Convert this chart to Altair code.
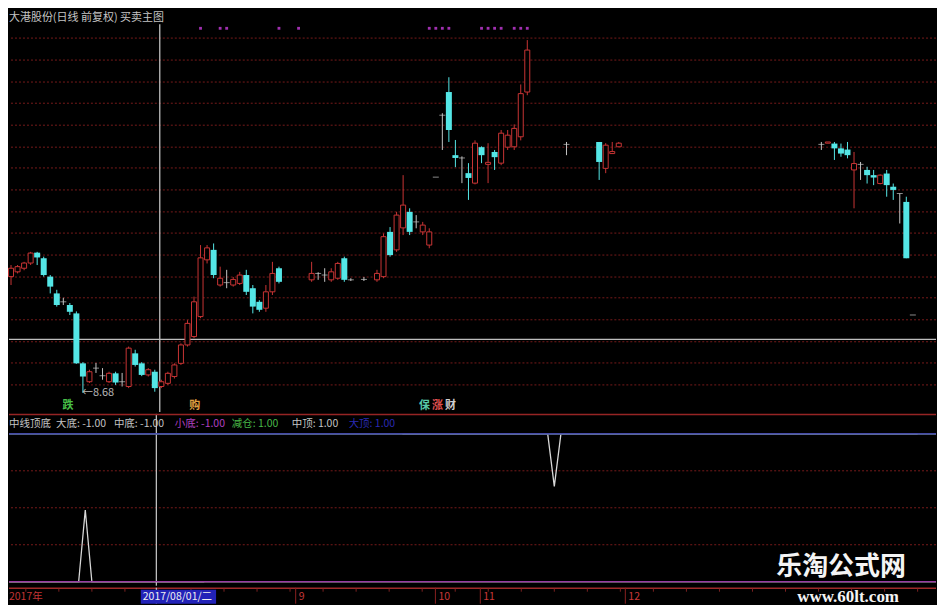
import altair as alt
import pandas as pd
import numpy as np

# ---------------- data ----------------
# day index of each visible candle and its prices (yuan)
IDX = [0, 1, 2, 3, 4, 5, 6, 7, 8, 9, 10, 11, 12, 13, 14, 15, 16, 17, 18, 19, 20, 21, 22,
       23, 24, 25, 26, 27, 28, 29, 30, 31, 32, 33, 34, 35, 36, 37, 38, 39, 40, 41,
       46, 47, 48, 49, 50, 51, 52, 54, 56, 57, 58, 59, 60, 61, 62, 63, 64,
       65, 66, 67, 68, 69, 70, 71, 72, 73, 74, 75, 76, 77, 78, 79,
       85, 90, 91, 92, 93,
       124, 125, 126, 127, 128, 129, 130, 131, 132, 133, 134, 135, 136, 137, 138]
OPEN = [11.59, 11.71, 11.80, 11.93, 12.19, 12.05, 11.59, 11.17, 10.96, 10.88, 10.67, 9.42, 8.96, 9.30, 9.11, 8.96, 9.17, 8.96, 8.84, 9.67, 9.42, 9.13, 9.21,
        8.84, 8.92, 9.09, 9.42, 9.88, 10.09, 10.59, 12.01, 12.26, 11.38, 11.44, 11.38, 11.42, 11.63, 11.30, 10.96, 10.80, 11.21, 11.80,
        11.51, 11.67, 11.63, 11.51, 11.55, 12.05, 11.51, 11.52, 11.51, 11.59, 12.71, 12.26, 12.81, 13.21, 12.96, 12.71, 12.38,
        14.08, 15.63, 16.21, 14.63, 14.56, 14.18, 13.93, 14.83, 14.40, 14.71, 14.43, 14.83, 14.84, 15.09, 16.21,
        14.90, 14.96, 14.30, 14.67, 14.84,
        14.90, 14.93, 14.92, 14.80, 14.77, 14.26, 14.40, 14.26, 14.13, 13.92, 14.17, 13.84, 13.67, 13.46, 10.63]
HIGH = [11.88, 11.88, 11.96, 12.21, 12.21, 12.09, 11.63, 11.26, 11.06, 10.93, 10.72, 9.45, 9.26, 9.43, 9.30, 9.21, 9.21, 9.18, 9.84, 9.76, 9.45, 9.30, 9.26,
        9.01, 9.21, 9.42, 9.92, 10.50, 11.09, 12.38, 12.38, 12.42, 11.84, 11.76, 11.58, 11.71, 11.76, 11.38, 11.00, 11.38, 11.96, 11.84,
        11.96, 11.70, 11.80, 11.80, 11.96, 12.09, 11.55, 11.58, 11.76, 12.67, 12.83, 13.21, 14.13, 13.30, 13.13, 12.96, 12.80,
        14.08, 15.68, 16.58, 15.01, 14.60, 14.43, 15.00, 14.85, 14.93, 14.76, 15.26, 15.26, 15.40, 16.40, 17.51,
        14.96, 14.96, 14.93, 14.96, 14.96,
        14.96, 14.96, 14.96, 14.92, 14.96, 14.71, 14.46, 14.34, 14.26, 14.15, 14.26, 13.92, 13.67, 13.59, 10.63]
LOW = [11.38, 11.67, 11.75, 11.88, 11.88, 11.59, 11.17, 10.84, 10.88, 10.63, 9.41, 8.68, 8.93, 9.18, 9.01, 8.93, 8.88, 8.84, 8.80, 9.34, 9.10, 9.09, 8.71,
       8.80, 8.88, 9.04, 9.38, 9.84, 10.05, 10.55, 11.92, 11.55, 11.34, 11.30, 11.34, 11.38, 11.13, 10.67, 10.71, 10.71, 11.13, 11.42,
       11.46, 11.51, 11.46, 11.46, 11.51, 11.46, 11.48, 11.48, 11.46, 11.55, 12.09, 12.21, 12.63, 12.63, 12.80, 12.63, 12.30,
       14.08, 14.76, 14.96, 14.33, 13.93, 13.51, 13.90, 14.43, 13.93, 14.26, 14.38, 14.76, 14.76, 15.00, 16.13,
       14.63, 14.01, 14.18, 14.67, 14.84,
       14.76, 14.93, 14.51, 14.59, 14.55, 13.30, 14.01, 13.92, 13.88, 13.90, 13.59, 13.51, 12.92, 12.05, 10.63]
CLOSE = [11.80, 11.84, 11.93, 12.18, 12.07, 11.63, 11.34, 10.88, 10.96, 10.71, 9.42, 9.09, 9.21, 9.30, 9.11, 9.17, 8.94, 8.96, 9.80, 9.38, 9.13, 9.26, 8.80,
         8.96, 9.17, 9.38, 9.88, 10.42, 10.96, 12.06, 12.31, 11.63, 11.55, 11.44, 11.52, 11.63, 11.21, 10.84, 10.76, 11.21, 11.67, 11.46,
         11.67, 11.67, 11.63, 11.71, 11.92, 11.51, 11.51, 11.52, 11.67, 12.59, 12.13, 13.13, 13.38, 12.71, 12.96, 12.88, 12.71,
         14.08, 15.63, 15.26, 14.56, 14.56, 14.06, 14.93, 14.63, 14.45, 14.58, 15.18, 15.13, 15.30, 16.17, 17.26,
         14.90, 14.46, 14.88, 14.72, 14.93,
         14.90, 14.96, 14.80, 14.67, 14.63, 14.42, 14.40, 14.13, 14.07, 14.13, 13.88, 13.76, 13.67, 12.05, 10.63]

GRID_PRICES = [17.56, 17.01, 16.46, 15.93, 15.38, 14.83, 14.31, 13.76, 13.21, 12.68,
               12.13, 11.58, 11.06, 10.51, 9.96, 9.43, 8.88]
CROSS_IDX = 22.76          # crosshair day (2017/08/01)
CROSS_PRICE = 10.02        # crosshair price
LOW_PRICE = 8.68           # marked low
LOW_IDX = 11
SIGNAL_IDX = [29, 32, 33, 41, 44, 64, 65, 66, 67, 72, 73, 74, 75, 77, 78, 79]

# indicator (中线顶底) white line, two visible pieces
IND_IDX = [0, 5, 10, 11, 12, 13, 14, 20, 30, 60, 70, 80, 82, 83, 84, 90, 138]
IND_VAL = [-1, -1, -1, -1, -0.03, -1, -1, -1, -1, 1, 1, 1, 1, 0.29, 1, 1, 1]
IND_SEG = ["a"] * 9 + ["b"] * 8
IND_GRID = [0.5, 0.0, -0.5]

MONTH_IDX = [43.85, 65.0, 71.8, 93.75]
MONTH_LBL = ["9", "10", "11", "12"]

# ---------------- styling ----------------
RED = "#c83434"
CYAN = "#54e6e6"
GREY = "#c4c4c4"
GRID = "#761a1a"
FONT = "Noto Sans CJK SC"
W = 928
X_DOMAIN = [0.4537, 140.78]
XS = alt.Scale(domain=X_DOMAIN, nice=False, zero=False)
YS = alt.Scale(domain=[8.205, 18.305], nice=False, zero=False)
IS = alt.Scale(domain=[-1.054, 1.27], nice=False, zero=False)

df = pd.DataFrame({"i": IDX, "o": OPEN, "h": HIGH, "l": LOW, "c": CLOSE})
df["kind"] = np.where(df.c > df.o, "up", np.where(df.c < df.o, "down", "flat"))


def X(field="i"):
    return alt.X(f"{field}:Q", scale=XS, axis=None)


# ---------------- main panel ----------------
grid = alt.Chart(pd.DataFrame({"p": GRID_PRICES})).mark_rule(
    color=GRID, strokeDash=[2, 2], strokeWidth=1).encode(
    y=alt.Y("p:Q", scale=YS, axis=None))

hcross = alt.Chart(pd.DataFrame({"p": [CROSS_PRICE]})).mark_rule(
    color="#bdbdbd", strokeWidth=1.3).encode(y=alt.Y("p:Q", scale=YS, axis=None))
vcross = alt.Chart(pd.DataFrame({"i": [CROSS_IDX]})).mark_rule(
    color="#bdbdbd", strokeWidth=1.3).encode(x=X(), y=alt.value(16), y2=alt.value(404))

wick = alt.Chart(df).mark_rule(strokeWidth=1).encode(
    x=X(), y=alt.Y("l:Q", scale=YS, axis=None), y2="h:Q",
    color=alt.Color("kind:N", scale=alt.Scale(domain=["up", "down", "flat"],
                                              range=[RED, CYAN, GREY]), legend=None))
body_up = alt.Chart(df).transform_filter("datum.kind == 'up'").mark_bar(
    size=5, fill="black", stroke=RED, strokeWidth=1).encode(
    x=X(), y=alt.Y("o:Q", scale=YS, axis=None), y2="c:Q")
body_dn = alt.Chart(df).transform_filter("datum.kind == 'down'").mark_bar(
    size=6, color=CYAN).encode(
    x=X(), y=alt.Y("o:Q", scale=YS, axis=None), y2="c:Q")
body_flat = alt.Chart(df).transform_filter("datum.kind == 'flat'").mark_tick(
    orient="horizontal", size=6, thickness=1, color=GREY).encode(
    x=X(), y=alt.Y("c:Q", scale=YS, axis=None))

title = alt.Chart(pd.DataFrame({"t": ["大港股份(日线 前复权) 买卖主图"]})).mark_text(
    align="left", baseline="middle", font=FONT, fontSize=11, color=GREY).encode(
    x=alt.value(0), y=alt.value(10), text="t:N")

signals = alt.Chart(pd.DataFrame({"i": SIGNAL_IDX})).mark_square(
    size=8, color="#a030b0", opacity=1).encode(x=X(), y=alt.value(20))

low_lbl = alt.Chart(pd.DataFrame({"i": [LOW_IDX], "p": [LOW_PRICE],
                                  "t": ["←" + f"{LOW_PRICE:.2f}"]})).mark_text(
    align="left", baseline="middle", font=FONT, fontSize=11, color="#b8b8b8", dx=-1).encode(
    x=X(), y=alt.Y("p:Q", scale=YS, axis=None), text="t:N")

tag1 = alt.Chart(pd.DataFrame({"t": ["跌"]})).mark_text(
    align="center", baseline="middle", font=FONT, fontSize=11, fontWeight="bold",
    color="#48c048").encode(x=alt.value(59), y=alt.value(398), text="t:N")
tag2 = alt.Chart(pd.DataFrame({"t": ["购"]})).mark_text(
    align="center", baseline="middle", font=FONT, fontSize=11, fontWeight="bold",
    color="#e0a040").encode(x=alt.value(186), y=alt.value(398), text="t:N")
tag3a = alt.Chart(pd.DataFrame({"t": ["保"]})).mark_text(
    align="center", baseline="middle", font=FONT, fontSize=11, fontWeight="bold",
    color="#58c8a8").encode(x=alt.value(416), y=alt.value(398), text="t:N")
tag3b = alt.Chart(pd.DataFrame({"t": ["涨"]})).mark_text(
    align="center", baseline="middle", font=FONT, fontSize=11, fontWeight="bold",
    color="#e05050").encode(x=alt.value(429), y=alt.value(398), text="t:N")
tag3c = alt.Chart(pd.DataFrame({"t": ["财"]})).mark_text(
    align="center", baseline="middle", font=FONT, fontSize=11, fontWeight="bold",
    color="#d0d0d0").encode(x=alt.value(442), y=alt.value(398), text="t:N")

main = alt.layer(grid, hcross, vcross, wick, body_up, body_dn, body_flat, title,
                 signals, low_lbl, tag1, tag2, tag3a, tag3b, tag3c).properties(
    width=W, height=404)

# ---------------- indicator panel ----------------
ind_df = pd.DataFrame({"i": IND_IDX, "v": IND_VAL, "seg": IND_SEG})
igrid = alt.Chart(pd.DataFrame({"v": IND_GRID})).mark_rule(
    color=GRID, strokeDash=[2, 2]).encode(y=alt.Y("v:Q", scale=IS, axis=None))
iborder = alt.Chart(pd.DataFrame({"v": [0]})).mark_rule(color="#962424", strokeWidth=1.5).encode(
    y=alt.value(0.5))
ivcross = alt.Chart(pd.DataFrame({"i": [CROSS_IDX]})).mark_rule(
    color="#bdbdbd", strokeWidth=1.3).encode(x=X())
iline = alt.Chart(ind_df).mark_line(color="#d8d8d8", strokeWidth=1.3, clip=True).encode(
    x=X(), y=alt.Y("v:Q", scale=IS, axis=None), detail="seg:N", order="i:Q")

LEVEL_NAMES = ["大底", "中底", "小底", "减仓", "中顶", "大顶"]
LEVEL_VALS = [-1.0, -1.0, -1.0, 1.0, 1.0, 1.0]
LEVEL_COLORS = ["#c4c4c4", "#c4c4c4", "#9a3aa4", "#48b848", "#c4c4c4", "#2626a8"]
LEVEL_TEXT_COLORS = ["#c4c4c4", "#c4c4c4", "#b040c0", "#48b848", "#c4c4c4", "#2a2ab4"]
LEVEL_X = [47, 105, 166, 223, 283, 340]

lvl_rules = []
for name, val, col in zip(LEVEL_NAMES, LEVEL_VALS, LEVEL_COLORS):
    lvl_rules.append(alt.Chart(pd.DataFrame({"v": [val]})).mark_rule(
        color=col, strokeWidth=1.2).encode(y=alt.Y("v:Q", scale=IS, axis=None)))

lvl_texts = [alt.Chart(pd.DataFrame({"t": ["中线顶底"]})).mark_text(
    align="left", baseline="middle", font=FONT, fontSize=10.5, color=GREY).encode(
    x=alt.value(0), y=alt.value(10), text="t:N")]
for name, val, col, xp in zip(LEVEL_NAMES, LEVEL_VALS, LEVEL_TEXT_COLORS, LEVEL_X):
    lvl_texts.append(alt.Chart(pd.DataFrame({"t": [f"{name}: {val:.2f}"]})).mark_text(
        align="left", baseline="middle", font=FONT, fontSize=10.5, color=col).encode(
        x=alt.value(xp), y=alt.value(10), text="t:N"))

wm1 = alt.Chart(pd.DataFrame({"t": ["乐淘公式网"]})).mark_text(
    align="center", baseline="middle", font=FONT, fontSize=26, fontWeight="bold",
    color="#f4f4f4").encode(x=alt.value(833), y=alt.value(153), text="t:N")

lower = alt.layer(igrid, ivcross, iline, *lvl_rules, iborder, *lvl_texts, wm1).properties(
    width=W, height=172)

# ---------------- date strip ----------------
mdf = pd.DataFrame({"i": MONTH_IDX, "t": MONTH_LBL})
dborder = alt.Chart(pd.DataFrame({"v": [0]})).mark_rule(color="#a02a2a", strokeWidth=1.5).encode(
    y=alt.value(0.5))
dsep = alt.Chart(mdf).mark_rule(color="#8a2020").encode(x=X())
dticks = alt.Chart(pd.DataFrame({"i": list(range(3, 140, 5))})).mark_rule(
    color="#7a2020").encode(x=X(), y=alt.value(1), y2=alt.value(4))
dvcross = alt.Chart(pd.DataFrame({"i": [CROSS_IDX]})).mark_rule(
    color="#bdbdbd", strokeWidth=1.3).encode(x=X())
dbox = alt.Chart(pd.DataFrame({"a": [20.4], "b": [31.8]})).mark_rect(color="#2222b8").encode(
    x=X("a"), x2="b:Q", y=alt.value(2), y2=alt.value(16))
dbox_t = alt.Chart(pd.DataFrame({"a": [20.4], "t": ["2017/08/01/二"]})).mark_text(
    align="left", baseline="middle", font=FONT, fontSize=10.5, color="#f0f0f0", dx=2).encode(
    x=X("a"), y=alt.value(9), text="t:N")
dyear = alt.Chart(pd.DataFrame({"t": ["2017年"]})).mark_text(
    align="left", baseline="middle", font=FONT, fontSize=10.5, color="#c03434").encode(
    x=alt.value(0), y=alt.value(9), text="t:N")
dmonth = alt.Chart(mdf).mark_text(
    align="left", baseline="middle", font=FONT, fontSize=10.5, color="#c83838", dx=3).encode(
    x=X(), y=alt.value(9), text="t:N")
wm2 = alt.Chart(pd.DataFrame({"t": ["www.60lt.com"]})).mark_text(
    align="center", baseline="middle", font="Liberation Serif", fontSize=17, fontWeight="bold",
    color="#f4f4f4").encode(x=alt.value(840), y=alt.value(9), text="t:N")

dates = alt.layer(dborder, dticks, dsep, dvcross, dbox, dbox_t, dyear, dmonth, wm2).properties(
    width=W, height=16)

chart = alt.vconcat(main, lower, dates, spacing=0).properties(
    background="black", padding=0
).configure_view(stroke=None)

chart.save("out.html", embed_options={"renderer": "svg", "actions": False})
